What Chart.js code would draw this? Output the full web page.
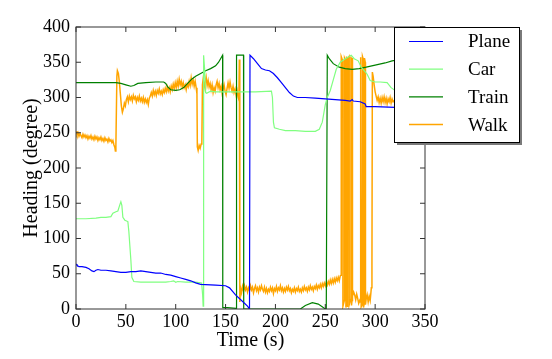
<!DOCTYPE html>
<html>
<head>
<meta charset="utf-8">
<script src="https://cdn.jsdelivr.net/npm/chart.js@4.4.1/dist/chart.umd.min.js"></script>
<style>
  html, body { margin: 0; padding: 0; background: #fff; }
  #wrap { width: 552px; height: 359px; }
</style>
</head>
<body>
<div id="wrap"><canvas id="headingChart" width="552" height="359"></canvas></div>
<script>
// Seriya nomlari va ranglari
const seriesNames = ['Plane', 'Car', 'Train', 'Walk'];
const seriesColors = ['#0000ff', '#80ff80', '#008000', '#ffa500'];

// O'qlar
const xTicks = [0, 50, 100, 150, 200, 250, 300, 350];
const yTicks = [0, 50, 100, 150, 200, 250, 300, 350, 400];

// [vaqt (s), yo'nalish (gradus)]
const planePoints = [[0,64],[1,62],[3,60],[6,60],[10,59],[13,57],[16,54],[18,53],[20,55],[22,56],[25,55],[30,55],[35,54],[40,53],[45,52],[50,52],[55,53],[60,53],[65,54],[70,53],[75,52],[80,51],[85,51],[90,49],[95,48],[100,46],[105,44],[110,42],[115,40],[120,37],[125,35],[140,34],[150,33],[154,30],[160,20],[166,12],[172,4],[174,0],[174.5,360],[178,355],[182,348],[186,341],[190,339],[194,338],[198,334],[202,328],[206,321],[210,314],[214,307],[218,302],[222,300],[230,300],[240,299],[250,298],[260,297],[270,296],[275,295],[277,297],[278,295],[285,294],[290,291],[291,287],[300,287],[320,286],[345,286]];

const carPoints = [[0,128],[10,128],[20,129],[25,130],[30,130],[35,131],[37,136],[40,138],[42,139],[44,148],[45,152],[46,147],[47,130],[49,126],[52,124],[53,110],[55,70],[56,45],[58,39],[65,38],[80,38],[90,38],[95,39],[98,40],[100,38],[102,39],[110,38],[120,38],[126,37],[127,20],[127.5,4],[128,360],[129,340],[130,307],[131,306],[135,309],[140,308],[160,308],[180,308],[196,309],[197,300],[198,265],[199,257],[204,255],[210,253],[220,253],[230,252],[240,252],[244,255],[247,265],[250,290],[252,300],[255,310],[258,325],[261,340],[265,350],[270,355],[274,358],[276,360],[279,355],[283,352],[286,343],[289,338],[292,333],[295,324],[300,322],[305,322],[312,321],[316,314],[320,310],[345,308]];

const trainPoints = [[0,321],[20,321],[40,321],[45,320],[50,318],[55,316],[58,317],[62,320],[70,321],[80,322],[88,322],[90,320],[92,315],[95,311],[100,310],[104,311],[108,314],[112,320],[116,326],[120,330],[125,334],[130,338],[135,341],[140,345],[143,350],[147,360],[147.2,2],[152,2],[160.5,1],[161,360],[168,360],[168.2,0],[225,0],[230,5],[237,9],[243,7],[249,1],[251,0],[252,360],[254,355],[258,348],[264,343],[270,341],[277,340],[284,341],[291,343],[300,346],[310,349],[317,352],[330,355],[345,358]];

const walkPoints = [[0,252],[1,247],[2,250],[3,245],[4,249],[5,246],[6,243],[7,248],[8,244],[9,247],[10,243],[11,246],[12,241],[13,245],[14,242],[15,246],[16,241],[17,244],[18,240],[19,245],[20,241],[21,244],[22,239],[23,243],[24,240],[25,244],[26,239],[27,242],[28,238],[29,243],[30,239],[31,241],[32,237],[33,242],[34,238],[35,240],[36,236],[37,239],[38,233],[39,229],[39.5,224],[40,232],[41,330],[41.5,338],[42.5,334],[43.5,322],[44.5,305],[45.5,288],[46.5,279],[47.5,284],[48.5,292],[49.5,288],[50.5,297],[51.5,301],[52.5,294],[53.5,302],[54.5,297],[55.5,301],[56.5,295],[57.5,303],[58.5,298],[59.5,301],[60.5,294],[61.5,300],[62.5,296],[63.5,302],[64.5,295],[65.5,299],[66.5,294],[67.5,300],[68.5,293],[69.5,298],[70.5,293],[71.5,297],[72.5,290],[73.5,299],[74.5,302],[75.5,307],[76.5,302],[77.5,310],[78.5,304],[79.5,309],[80.5,303],[81.5,310],[82.5,306],[83.5,312],[84.5,305],[85.5,309],[86.5,304],[87.5,311],[88.5,307],[89.5,313],[90.5,308],[91.5,315],[92.5,309],[93.5,314],[94.5,308],[95.5,316],[96.5,311],[97.5,319],[98.5,313],[99.5,321],[100.5,314],[101.5,323],[102.5,316],[103.5,326],[104.5,318],[105.5,323],[106.5,315],[107.5,321],[108.5,314],[109.5,318],[110.5,311],[111.5,319],[112.5,315],[113.5,323],[114.5,317],[115.5,328],[116.5,319],[117.5,325],[118.5,316],[119.5,323],[120.5,314],[121.3,305],[121.7,230],[122.5,225],[123.5,232],[124.5,228],[125.5,234],[126.2,236],[126.8,318],[127.5,326],[128.5,314],[129.5,322],[130.5,329],[131.5,317],[132.5,324],[133.5,315],[134.5,320],[135.5,311],[136.5,318],[137.5,307],[138.5,314],[139.5,309],[140.5,318],[141.5,323],[142.5,314],[143.5,320],[144.5,311],[145.5,316],[146.5,306],[147.5,312],[148.5,318],[149.5,309],[150.5,304],[151.5,313],[152.5,321],[153.5,313],[154.5,322],[155.5,314],[156.5,309],[157.5,316],[158.5,307],[159.5,312],[160.5,304],[161.5,310],[162.5,301],[163.3,297],[163.8,354],[164.3,10],[165,30],[166,23],[167,32],[168,26],[169,33],[170,27],[171,31],[172,24],[173,30],[174,26],[175,33],[176,27],[177,31],[178,23],[179,29],[180,33],[181,26],[182,30],[183,24],[184,31],[185,27],[186,33],[187,28],[188,25],[189,31],[190,24],[191,29],[192,23],[193,28],[194,25],[195,31],[196,26],[197,30],[198,22],[199,29],[200,26],[201,32],[202,25],[203,30],[204,27],[205,33],[206,26],[207,30],[208,24],[209,29],[210,25],[211,31],[212,27],[213,32],[214,26],[215,29],[216,23],[217,28],[218,25],[219,30],[220,24],[221,29],[222,26],[223,31],[224,25],[225,28],[226,24],[227,30],[228,26],[229,32],[230,27],[231,30],[232,25],[233,31],[234,27],[235,33],[236,28],[237,31],[238,26],[239,32],[240,29],[241,34],[242,28],[243,33],[244,30],[245,35],[246,30],[247,36],[248,32],[249,37],[250,33],[251,38],[252,34],[253,39],[254,35],[255,41],[256,36],[257,42],[258,37],[259,43],[260,38],[261,44],[262,40],[263,45],[264,40],[265,47],[265.8,48],[266,358],[267.5,352],[267.7,4],[269.1,12],[269.3,356],[270.5,352],[270.7,2],[271.1,8],[271.3,358],[271.8,350],[272,3],[272.5,10],[272.7,355],[273.8,358],[274,6],[275.5,14],[275.7,358],[276.1,352],[276.3,5],[276.8,12],[277,356],[277.3,350],[277.5,18],[278.5,24],[279.5,20],[280.5,13],[281.5,21],[282.5,15],[283.5,8],[284.5,12],[285,10],[285.2,357],[285.8,352],[286,3],[287.1,6],[287.3,358],[288.1,354],[288.3,2],[289.1,8],[289.3,356],[290.1,350],[290.3,6],[291,14],[292,20],[293,10],[294,18],[295,12],[296.2,30],[296.8,62],[297.2,336],[298,330],[299,318],[300,308],[301,302],[302,296],[303,301],[304,293],[305,299],[306,292],[307,300],[308,294],[309,301],[310,293],[311,299],[312,291],[313,298],[314,294],[315,300],[316,292],[317,298],[318,294],[320,297],[322,293],[325,298]];

const allPoints = [planePoints, carPoints, trainPoints, walkPoints];
const lineWidths = [1.2, 1.2, 1.2, 1.5];

const serif = "'Liberation Serif', 'DejaVu Serif', serif";

// Ramka, ichki tiklar va legend
const frameLegendPlugin = {
  id: 'frameLegend',
  afterDraw(chart) {
    const { ctx, chartArea: a, scales: { x, y } } = chart;
    ctx.save();
    ctx.strokeStyle = '#333';
    ctx.lineWidth = 1;
    ctx.strokeRect(a.left, a.top, a.right - a.left, a.bottom - a.top);

    ctx.beginPath();
    x.ticks.forEach(t => {
      const px = x.getPixelForValue(t.value);
      ctx.moveTo(px, a.bottom); ctx.lineTo(px, a.bottom - 5);
      ctx.moveTo(px, a.top); ctx.lineTo(px, a.top + 5);
    });
    y.ticks.forEach(t => {
      const py = y.getPixelForValue(t.value);
      ctx.moveTo(a.left, py); ctx.lineTo(a.left + 5, py);
      ctx.moveTo(a.right, py); ctx.lineTo(a.right - 5, py);
    });
    ctx.stroke();

    // Legend (grafik ustida, o'ng yuqori burchakda)
    const bx = 394, by = 27, bw = 125, bh = 115;
    ctx.fillStyle = '#7a7a7a';
    ctx.fillRect(bx + 3, by + 3, bw, bh);
    ctx.fillStyle = '#fff';
    ctx.fillRect(bx, by, bw, bh);
    ctx.strokeStyle = '#000';
    ctx.strokeRect(bx + 0.5, by + 0.5, bw, bh);

    ctx.font = '19px ' + serif;
    ctx.textBaseline = 'middle';
    ctx.textAlign = 'left';
    chart.data.datasets.forEach((ds, i) => {
      const ly = 41.5 + i * 27.7;
      ctx.strokeStyle = ds.borderColor;
      ctx.lineWidth = ds.borderWidth;
      ctx.beginPath();
      ctx.moveTo(409, ly); ctx.lineTo(443, ly);
      ctx.stroke();
      ctx.fillStyle = '#000';
      ctx.fillText(ds.label, 468, ly + 1);
    });
    ctx.restore();
  }
};

const ctx = document.getElementById('headingChart').getContext('2d');
new Chart(ctx, {
  type: 'line',
  data: {
    datasets: seriesNames.map((name, i) => ({
      label: name,
      data: allPoints[i].map(p => ({ x: p[0], y: p[1] })),
      borderColor: seriesColors[i],
      borderWidth: lineWidths[i],
      pointRadius: 0,
      tension: 0,
      fill: false
    }))
  },
  options: {
    responsive: false,
    animation: false,
    devicePixelRatio: 1,
    layout: { padding: { left: 0, right: 127, top: 27, bottom: 0 } },
    plugins: {
      legend: { display: false },
      tooltip: { enabled: false }
    },
    scales: {
      x: {
        type: 'linear',
        min: 0,
        max: 350,
        afterBuildTicks: s => { s.ticks = xTicks.map(v => ({ value: v })); },
        afterFit: s => { s.height = 50; },
        grid: { display: false, drawTicks: false },
        border: { display: false },
        ticks: { color: '#000', padding: 2, maxRotation: 0, font: { family: serif, size: 18 } },
        title: { display: true, text: 'Time (s)', color: '#000', padding: { top: 0, bottom: 6 }, font: { family: serif, size: 20 } }
      },
      y: {
        type: 'linear',
        min: 0,
        max: 400,
        afterBuildTicks: s => { s.ticks = yTicks.map(v => ({ value: v })); },
        afterFit: s => { s.width = 76; },
        grid: { display: false, drawTicks: false },
        border: { display: false },
        ticks: { color: '#000', padding: 6, font: { family: serif, size: 18 } },
        title: { display: true, text: 'Heading (degree)', color: '#000', padding: { top: 20, bottom: 0 }, font: { family: serif, size: 20 } }
      }
    }
  },
  plugins: [frameLegendPlugin]
});
</script>
</body>
</html>
